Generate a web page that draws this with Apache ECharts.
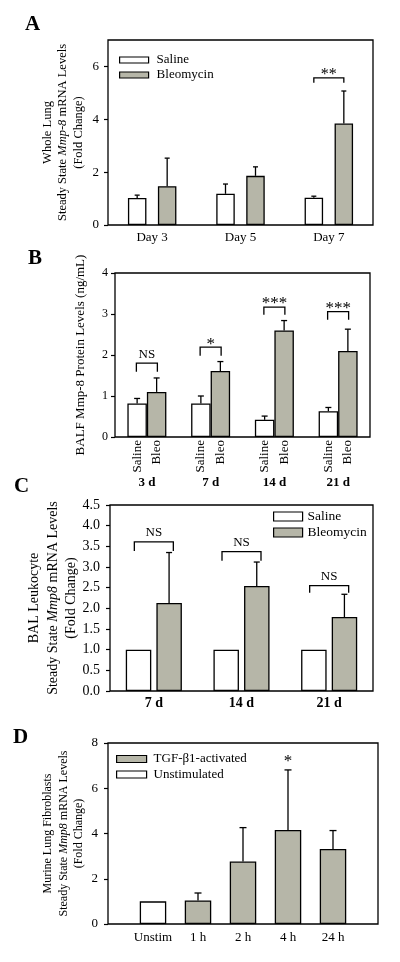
<!DOCTYPE html>
<html><head><meta charset="utf-8">
<script src="https://cdn.jsdelivr.net/npm/echarts@6/dist/echarts.min.js"></script>
<style>html,body{margin:0;padding:0;background:#fff}#c{width:400px;height:962px}</style>
</head><body><div id="c"></div>
<script>
// ---------- Panel A ----------
const catsA = ['Day 3', 'Day 5', 'Day 7'];
const salineA = [1.02, 1.18, 1.03];
const salineErrA = [0.11, 0.37, 0.06];
const bleoA = [1.47, 1.86, 3.84];
const bleoErrA = [1.06, 0.34, 1.23];
const ticksA = [0, 2, 4, 6];
const sigCatA = [2];
const sigTopA = [5.57];
const sigEndA = [5.38];
const sigTextA = ['**'];

// ---------- Panel B ----------
const catsB = ['3 d', '7 d', '14 d', '21 d'];
const barNamesB = ['Saline', 'Bleo'];
const salineB = [0.82, 0.82, 0.42, 0.63];
const salineErrB = [0.12, 0.18, 0.09, 0.09];
const bleoB = [1.10, 1.61, 2.60, 2.10];
const bleoErrB = [0.34, 0.23, 0.24, 0.53];
const ticksB = [0, 1, 2, 3, 4];
const sigCatB = [0, 1, 2, 3];
const sigTopB = [1.80, 2.19, 3.17, 3.06];
const sigEndB = [1.59, 1.98, 2.98, 2.86];
const sigTextB = ['NS', '*', '***', '***'];

// ---------- Panel C ----------
const catsC = ['7 d', '14 d', '21 d'];
const salineC = [1, 1, 1];
const bleoC = [2.13, 2.54, 1.79];
const bleoErrC = [1.22, 0.58, 0.55];
const ticksC = [0, 0.5, 1.0, 1.5, 2.0, 2.5, 3.0, 3.5, 4.0, 4.5];
const sigCatC = [0, 1, 2];
const sigTopC = [3.61, 3.37, 2.55];
const sigEndC = [3.39, 3.15, 2.38];
const sigTextC = ['NS', 'NS', 'NS'];

// ---------- Panel D ----------
const catsD = ['Unstim', '1 h', '2 h', '4 h', '24 h'];
const unstimD = [1, null, null, null, null];
const tgfD = [null, 1.04, 2.76, 4.16, 3.32];
const tgfErrD = [null, 0.33, 1.50, 2.65, 0.81];
const ticksD = [0, 2, 4, 6, 8];
const sigCatD = [3];
const sigValD = [7.18];
const sigTextD = ['*'];

const FONT = '"Liberation Serif","Times New Roman",serif';
const GRAY = '#b6b6a8';
const LW = 1.3;

function pad(arr) { return ['-'].concat(arr.map(v => v == null ? '-' : v)).concat(['-']); }

function errSeries(g, vals, errs, offset, cap, shift) {
  const data = [];
  vals.forEach((v, i) => { if (v != null && errs[i] != null) data.push([i + shift, v, errs[i]]); });
  return {
    type: 'custom', xAxisIndex: g, yAxisIndex: g, clip: false, silent: true, z: 5,
    encode: { x: 0, y: 1 },
    data: data,
    renderItem: function (params, api) {
      const x = api.value(0), v = api.value(1), e = api.value(2);
      const p0 = api.coord([x, v]);
      const p1 = api.coord([x, v + e]);
      const cx = p0[0] + offset;
      const st = { stroke: '#000', lineWidth: LW };
      return { type: 'group', children: [
        { type: 'line', shape: { x1: cx, y1: p0[1], x2: cx, y2: p1[1] }, style: st },
        { type: 'line', shape: { x1: cx - cap, y1: p1[1], x2: cx + cap, y2: p1[1] }, style: st }
      ]};
    }
  };
}

function sigSeries(g, cats, tops, ends, texts, off, sizeFn, lift) {
  return {
    type: 'custom', xAxisIndex: g, yAxisIndex: g, clip: false, silent: true, z: 6,
    encode: { x: 0, y: 1 },
    data: cats.map((c, i) => [c, tops[i], ends[i]]),
    renderItem: function (params, api) {
      const i = params.dataIndex;
      const pc = api.coord([api.value(0), api.value(1)]);
      const pe = api.coord([api.value(0), api.value(2)]);
      const xl = pc[0] - off, xr = pc[0] + off;
      const t = texts[i];
      const isStar = t.indexOf('*') >= 0;
      return { type: 'group', children: [
        { type: 'polyline', shape: { points: [[xl, pe[1]], [xl, pc[1]], [xr, pc[1]], [xr, pe[1]]] },
          style: { stroke: '#000', lineWidth: LW, fill: null } },
        { type: 'text', style: { text: t, x: pc[0], y: pc[1] - (isStar ? lift[0] : lift[1]),
          textAlign: 'center', align: 'center', textVerticalAlign: 'middle', verticalAlign: 'middle',
          font: 'normal ' + sizeFn(t) + 'px ' + FONT, fill: '#000' } }
      ]};
    }
  };
}

function starSeries(g, cats, vals, texts, size) {
  return {
    type: 'custom', xAxisIndex: g, yAxisIndex: g, clip: false, silent: true, z: 6,
    encode: { x: 0, y: 1 },
    data: cats.map((c, i) => [c, vals[i]]),
    renderItem: function (params, api) {
      const p = api.coord([api.value(0), api.value(1)]);
      return { type: 'text', style: { text: texts[params.dataIndex], x: p[0], y: p[1],
        textAlign: 'center', align: 'center', textVerticalAlign: 'middle', verticalAlign: 'middle',
        font: 'normal ' + size + 'px ' + FONT, fill: '#000' } };
    }
  };
}

function gridCfg(o) { return Object.assign({ show: true, borderColor: '#000', borderWidth: LW, backgroundColor: 'transparent' }, o); }

function xCfg(g, data, o) {
  return Object.assign({
    gridIndex: g, type: 'category', data: data,
    axisLine: { show: false }, axisTick: { show: false }, splitLine: { show: false }
  }, o);
}

function yCfg(g, max, ticks, fs, margin, name, nameFs, lh, gap, fmt) {
  return {
    gridIndex: g, type: 'value', min: 0, max: max,
    axisLine: { show: false },
    axisTick: { show: true, inside: false, length: 4, customValues: ticks, lineStyle: { color: '#000', width: 1.2 } },
    axisLabel: { customValues: ticks, fontFamily: FONT, fontSize: fs, color: '#000', margin: margin, formatter: fmt },
    splitLine: { show: false },
    name: name, nameLocation: 'middle', nameRotate: 90, nameGap: gap, nameMoveOverlap: false,
    nameTextStyle: { fontFamily: FONT, fontSize: nameFs, lineHeight: lh, color: '#000',
      rich: { i: { fontFamily: FONT, fontSize: nameFs, lineHeight: lh, fontStyle: 'italic', color: '#000' } } }
  };
}

function barCfg(name, g, data, color, w, gapv, extra) {
  return Object.assign({
    type: 'bar', name: name, xAxisIndex: g, yAxisIndex: g, data: data,
    barWidth: w, barGap: gapv, silent: true, z: 3,
    itemStyle: { color: color, borderColor: '#000', borderWidth: LW }
  }, extra || {});
}

function legendCfg(left, top, data, iw, ih, fs, lh, gap, tpad) {
  return {
    left: left, top: top, orient: 'vertical', padding: 0, itemGap: gap, icon: 'rect',
    itemWidth: iw, itemHeight: ih, selectedMode: false, data: data,
    itemStyle: { borderColor: '#000', borderWidth: 1.2 },
    textStyle: { fontFamily: FONT, fontSize: fs, lineHeight: lh, color: '#000', padding: [0, 0, 0, tpad] }
  };
}

function barLabel(txt) {
  return { label: { show: true, position: 'bottom', rotate: 90, align: 'right', verticalAlign: 'middle',
    distance: 3, formatter: txt, fontFamily: FONT, fontSize: 13, color: '#000' } };
}

const titleStyle = { fontFamily: FONT, fontSize: 21, fontWeight: 'bold', color: '#000' };

const option = {
  animation: false,
  backgroundColor: '#fff',
  title: [
    { text: 'A', left: 25, top: 14, padding: 0, textStyle: titleStyle },
    { text: 'B', left: 28, top: 248, padding: 0, textStyle: titleStyle },
    { text: 'C', left: 14, top: 476, padding: 0, textStyle: titleStyle },
    { text: 'D', left: 13, top: 727, padding: 0, textStyle: titleStyle }
  ],
  legend: [
    legendCfg(119, 53, ['Saline', 'Bleomycin'], 29, 6, 13, 14, 1, 3),
    legendCfg(273, 509, ['Saline', 'Bleomycin'], 29, 9, 13.5, 15, 1, 0),
    legendCfg(116, 752, ['TGF-β1-activated', 'Unstimulated'], 30, 7, 13, 14, 1.5, 2)
  ],
  grid: [
    gridCfg({ left: 108, top: 40, right: 27, height: 185 }),
    gridCfg({ left: 115, top: 273, right: 30, height: 164 }),
    gridCfg({ left: 110, top: 505, right: 27, height: 186 }),
    gridCfg({ left: 108, top: 743, right: 22, height: 181 })
  ],
  xAxis: [
    xCfg(0, catsA, { axisLabel: { fontFamily: FONT, fontSize: 13, color: '#000', margin: 6 } }),
    xCfg(1, catsB, { axisLabel: { fontFamily: FONT, fontSize: 13, fontWeight: 'bold', color: '#000', margin: 39 } }),
    xCfg(2, catsC, { axisLabel: { fontFamily: FONT, fontSize: 14, fontWeight: 'bold', color: '#000', margin: 5 } }),
    xCfg(3, [''].concat(catsD).concat(['']), { boundaryGap: false,
      axisLabel: { fontFamily: FONT, fontSize: 13, color: '#000', margin: 7, interval: 0 } })
  ],
  yAxis: [
    yCfg(0, 7, ticksA, 13, 9, 'Whole Lung\nSteady State {i|Mmp-8} mRNA Levels\n(Fold Change)', 12.5, 15.5, 22),
    yCfg(1, 4, ticksB, 12, 7, 'BALF Mmp-8 Protein Levels (ng/mL)', 13, 15, 27),
    yCfg(2, 4.5, ticksC, 14, 10, 'BAL Leukocyte\nSteady State {i|Mmp8} mRNA Levels\n(Fold Change)', 14, 18.5, 29, v => v.toFixed(1)),
    yCfg(3, 8, ticksD, 13, 10, 'Murine Lung Fibroblasts\nSteady State {i|Mmp8} mRNA Levels\n(Fold Change)', 12, 15.5, 21)
  ],
  series: [
    // A
    barCfg('Saline', 0, salineA, '#fff', 18.5, '62%'),
    barCfg('Bleomycin', 0, bleoA, GRAY, 18.5, '62%'),
    errSeries(0, salineA, salineErrA, -15, 2.5, 0),
    errSeries(0, bleoA, bleoErrA, 15, 2.5, 0),
    sigSeries(0, sigCatA, sigTopA, sigEndA, sigTextA, 15, t => 16, [3, 9]),
    // B
    barCfg('Saline', 1, salineB, '#fff', 19.5, '0%', barLabel(barNamesB[0])),
    barCfg('Bleomycin', 1, bleoB, GRAY, 19.5, '0%', barLabel(barNamesB[1])),
    errSeries(1, salineB, salineErrB, -9.75, 3, 0),
    errSeries(1, bleoB, bleoErrB, 9.75, 3, 0),
    sigSeries(1, sigCatB, sigTopB, sigEndB, sigTextB, 10.5, t => (t === 'NS' ? 13 : 17), [3, 9]),
    // C
    barCfg('Saline', 2, salineC, '#fff', 25.5, '20%'),
    barCfg('Bleomycin', 2, bleoC, GRAY, 25.5, '20%'),
    errSeries(2, bleoC, bleoErrC, 15.25, 3, 0),
    sigSeries(2, sigCatC, sigTopC, sigEndC, sigTextC, 19.5, t => 13, [3, 9.5]),
    // D
    barCfg('Unstimulated', 3, pad(unstimD), '#fff', 26.5, '-100%'),
    barCfg('TGF-β1-activated', 3, pad(tgfD), GRAY, 26.5, '-100%'),
    errSeries(3, tgfD, tgfErrD, 0, 3.5, 1),
    starSeries(3, sigCatD.map(c => c + 1), sigValD, sigTextD, 17)
  ]
};

const chart = echarts.init(document.getElementById('c'), null, { renderer: 'canvas' });
chart.setOption(option);
</script>
</body></html>
